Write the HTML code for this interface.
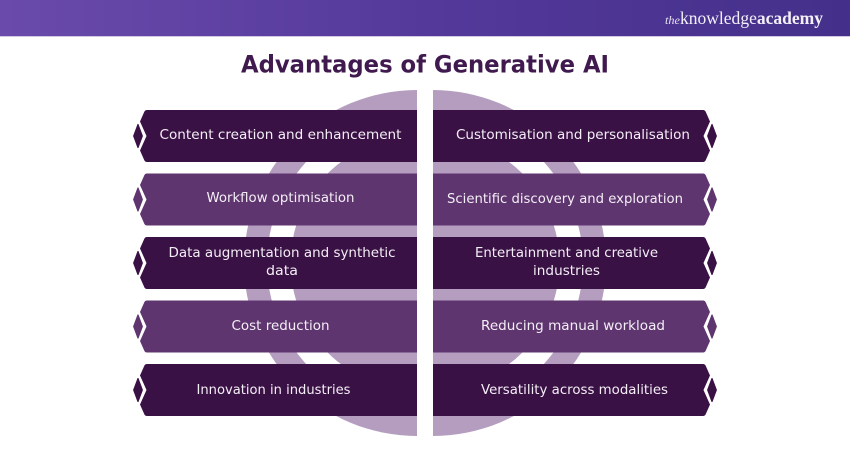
<!DOCTYPE html>
<html>
<head>
<meta charset="utf-8">
<style>
html,body{margin:0;padding:0;background:#fff;}
svg{display:block;font-family:"DejaVu Sans",sans-serif;}
</style>
</head>
<body>
<svg width="850" height="450" viewBox="0 0 850 450" xmlns="http://www.w3.org/2000/svg">
<defs>
<linearGradient id="h" x1="0" x2="1" y1="0" y2="0">
<stop offset="0" stop-color="#6a4bab"/>
<stop offset="0.5" stop-color="#54399b"/>
<stop offset="1" stop-color="#44308a"/>
</linearGradient>
<clipPath id="cl"><rect x="0" y="85" width="417" height="360"/></clipPath>
<clipPath id="cr"><rect x="433" y="85" width="417" height="360"/></clipPath>
<path id="b" d="M147 0H417V52H147Q145 52 144.200 50L140 40.500L146.500 26L140 11.500L144.200 2Q145 0 147 0Z"/>
<path id="d" d="M138 14.500L142.300 26L138 37.500L133.700 26Z" stroke-width="1.200" stroke-linejoin="round"/>
</defs>
<rect width="850" height="36" fill="url(#h)"/>
<rect y="36" width="850" height="1" fill="#cfc8e0"/>
<text x="665" y="24" font-family="Liberation Serif" font-style="italic" font-size="12" fill="#e8e2f2" textLength="15" lengthAdjust="spacingAndGlyphs">the</text>
<text x="680" y="24" font-family="Liberation Serif" font-size="18" fill="#f3f0f8" textLength="143" lengthAdjust="spacingAndGlyphs">knowledge<tspan font-weight="bold">academy</tspan></text>
<text x="425" y="72.500" text-anchor="middle" font-size="24" font-weight="bold" fill="#40194f" textLength="368" lengthAdjust="spacingAndGlyphs">Advantages of Generative AI</text>
<g clip-path="url(#cl)">
<circle cx="417" cy="263" r="173" fill="#b59dc0"/>
<circle cx="417" cy="263" r="150" fill="#fff"/>
<circle cx="417" cy="263" r="126.500" fill="#b59dc0"/>
</g>
<g clip-path="url(#cr)">
<circle cx="433" cy="263" r="173" fill="#b59dc0"/>
<circle cx="433" cy="263" r="150" fill="#fff"/>
<circle cx="433" cy="263" r="126.500" fill="#b59dc0"/>
</g>
<g fill="#3a1145" stroke="none">
<use href="#b" y="110"/><use href="#d" y="110" stroke="#3a1145"/>
<use href="#b" y="237"/><use href="#d" y="237" stroke="#3a1145"/>
<use href="#b" y="364"/><use href="#d" y="364" stroke="#3a1145"/>
<g transform="matrix(-1 0 0 1 850 0)">
<use href="#b" y="110"/><use href="#d" y="110" stroke="#3a1145"/>
<use href="#b" y="237"/><use href="#d" y="237" stroke="#3a1145"/>
<use href="#b" y="364"/><use href="#d" y="364" stroke="#3a1145"/>
</g>
</g>
<g fill="#5f3570" stroke="none">
<use href="#b" y="173.500"/><use href="#d" y="173.500" stroke="#5f3570"/>
<use href="#b" y="300.500"/><use href="#d" y="300.500" stroke="#5f3570"/>
<g transform="matrix(-1 0 0 1 850 0)">
<use href="#b" y="173.500"/><use href="#d" y="173.500" stroke="#5f3570"/>
<use href="#b" y="300.500"/><use href="#d" y="300.500" stroke="#5f3570"/>
</g>
</g>
<g fill="#f4eff6" font-size="13.500" text-anchor="middle">
<text x="280.500" y="139" textLength="242" lengthAdjust="spacingAndGlyphs">Content creation and enhancement</text>
<text x="280.500" y="202" textLength="148" lengthAdjust="spacingAndGlyphs">Workflow optimisation</text>
<text x="282" y="257" textLength="227" lengthAdjust="spacingAndGlyphs">Data augmentation and synthetic</text>
<text x="282" y="275" textLength="32" lengthAdjust="spacingAndGlyphs">data</text>
<text x="280.500" y="330" textLength="98" lengthAdjust="spacingAndGlyphs">Cost reduction</text>
<text x="273.500" y="394" textLength="154" lengthAdjust="spacingAndGlyphs">Innovation in industries</text>
<text x="573" y="139" textLength="234" lengthAdjust="spacingAndGlyphs">Customisation and personalisation</text>
<text x="565" y="203" textLength="236" lengthAdjust="spacingAndGlyphs">Scientific discovery and exploration</text>
<text x="566.500" y="257" textLength="183" lengthAdjust="spacingAndGlyphs">Entertainment and creative</text>
<text x="566.500" y="275" textLength="67" lengthAdjust="spacingAndGlyphs">industries</text>
<text x="573" y="330" textLength="184" lengthAdjust="spacingAndGlyphs">Reducing manual workload</text>
<text x="574.500" y="394" textLength="187" lengthAdjust="spacingAndGlyphs">Versatility across modalities</text>
</g>
</svg>
</body>
</html>
